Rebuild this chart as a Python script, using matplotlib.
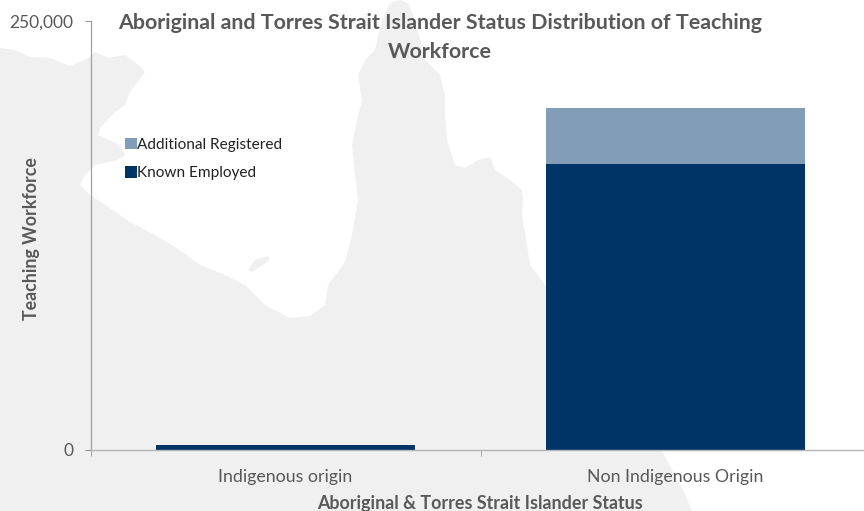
import matplotlib
matplotlib.use("Agg")
import matplotlib.pyplot as plt
from matplotlib.patches import Polygon

categories = ["Indigenous origin", "Non Indigenous Origin"]
known_employed = [2900, 166700]
additional_registered = [300, 32600]
y_ticks = [0, 250000]
y_tick_labels = ["0", "250,000"]

# faint decorative map behind the chart, in figure pixels
map_outline = [(0,48),(15,50),(30,57),(50,58),(70,66),(85,60),(95,52),(108,58),(125,55),(140,66),(145,72),
               (130,92),(125,105),(115,112),(100,128),(98,135),(120,145),(125,155),(118,160),(95,165),(85,175),
               (80,185),(90,195),(110,208),(130,222),(155,235),(180,250),(200,265),(225,275),(245,285),(265,305),
               (290,318),(310,316),(325,305),(328,285),(345,262),(352,235),(358,200),(355,175),(352,145),(357,120),
               (362,100),(358,75),(365,60),(375,50),(382,20),(390,3),(400,0),(408,3),(415,20),(425,60),(440,75),
               (445,95),(445,115),(447,140),(455,165),(465,168),(478,160),(490,157),(495,170),(510,180),(522,190),
               (523,200),(522,215),(527,245),(530,265),(545,285),(663,453),(683,490),(692,511),(0,511)]
map_island = [(248,270),(255,260),(268,256),(270,260),(258,268),(252,272)]

plt.rcParams['font.family'] = ['Lato', 'DejaVu Sans']
W, H = 864, 511
fig = plt.figure(figsize=(W/100, H/100), dpi=100, facecolor='white')

bg = fig.add_axes([0, 0, 1, 1], zorder=0)
bg.set_xlim(0, W)
bg.set_ylim(H, 0)
bg.axis('off')
bg.add_patch(Polygon(map_outline, closed=True, facecolor='#F0F0F0', edgecolor='none'))
bg.add_patch(Polygon(map_island, closed=True, facecolor='#F0F0F0', edgecolor='none'))

ax = fig.add_axes([90.5/W, 1-450/H, 780/W, 429/H], zorder=1)
ax.patch.set_alpha(0)
ax.bar([0, 1], known_employed, width=0.664, color='#003366', label='Known Employed')
ax.bar([0, 1], additional_registered, bottom=known_employed, width=0.664, color='#829DB8', label='Additional Registered')
ax.set_xlim(-0.5, 1.5)
ax.set_ylim(0, 250000)
ax.set_yticks(y_ticks, y_tick_labels, fontsize=12.5, color='#595959')
ax.set_xticks([0, 1], categories, fontsize=12.8, color='#595959')
ax.set_xticks([-0.5, 0.5], minor=True)
ax.tick_params(axis='x', which='major', length=0, pad=13.5)
ax.tick_params(axis='x', which='minor', length=4, color='#999999', direction='out')
ax.tick_params(axis='y', length=4.5, color='#999999', pad=8)
for s in ['top', 'right']:
    ax.spines[s].set_visible(False)
ax.spines['left'].set_color('#A0A0A0')
ax.spines['left'].set_linewidth(0.9)
ax.spines['bottom'].set_color('#B4B4B4')
ax.spines['bottom'].set_linewidth(1.0)

fig.text(440/W, 1-23/H, "Aboriginal and Torres Strait Islander Status Distribution of Teaching",
         ha='center', va='center', fontsize=15.4, fontweight='bold', color='#595959')
fig.text(440/W, 1-52/H, "Workforce",
         ha='center', va='center', fontsize=15.4, fontweight='bold', color='#595959')
fig.text(480/W, 1-503.5/H, "Aboriginal & Torres Strait Islander Status", ha='center', va='center',
         fontsize=12.9, fontweight='bold', color='#595959')
fig.text(32/W, 1-238.5/H, "Teaching Workforce", rotation=90, ha='center', va='center',
         fontsize=12.8, fontweight='bold', color='#595959')
h, l = ax.get_legend_handles_labels()
leg = ax.legend(h[::-1], l[::-1], loc='upper left', bbox_to_anchor=(125/W, 1-138/H), bbox_transform=fig.transFigure,
          frameon=False, fontsize=11.1, handlelength=0.8, handleheight=0.75, handletextpad=0.0,
          labelspacing=0.93, borderpad=0, borderaxespad=0)
for t in leg.get_texts():
    t.set_color('#222222')
fig.savefig("out.png", dpi=100)
